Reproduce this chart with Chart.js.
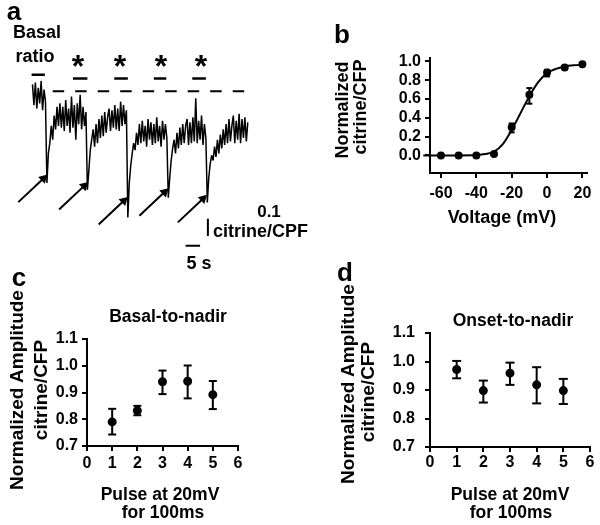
<!DOCTYPE html>
<html lang="en">
<head>
<meta charset="UTF-8">
<title>Citrine/CFP ratio responses</title>
<script src="https://cdn.jsdelivr.net/npm/chart.js"></script>
<style>
  body { margin: 0; background: #fff; }
  #fig { position: relative; width: 600px; height: 525px; overflow: hidden; background: #fff;
         font-family: 'Liberation Sans', Arial, sans-serif; font-weight: bold; color: #000; }
  canvas { position: absolute; }
  .t { position: absolute; white-space: nowrap; line-height: 1; transform: translate(-50%, -50%); }
  .v { transform: translate(-50%, -50%) rotate(-90deg); }
  .l { transform: translate(0, -50%); }
</style>
</head>
<body>
<div id="fig">
  <canvas id="chartA" width="300" height="280" style="left:0;top:0"></canvas>
  <canvas id="chartB" width="300" height="240" style="left:300px;top:0"></canvas>
  <canvas id="chartC" width="300" height="275" style="left:0;top:250px"></canvas>
  <canvas id="chartD" width="300" height="275" style="left:300px;top:250px"></canvas>

  <!-- panel a -->
  <div class="t" style="left:14px;top:11px;font-size:26px">a</div>
  <div class="t" style="left:37px;top:32px;font-size:18px">Basal</div>
  <div class="t" style="left:35px;top:56px;font-size:18px">ratio</div>
  <div class="t" style="left:78px;top:66px;font-size:32px">*</div>
  <div class="t" style="left:120px;top:66px;font-size:32px">*</div>
  <div class="t" style="left:161px;top:66px;font-size:32px">*</div>
  <div class="t" style="left:201px;top:66px;font-size:32px">*</div>
  <div class="t" style="left:269px;top:211px;font-size:17px">0.1</div>
  <div class="t l" style="left:213px;top:231px;font-size:18px">citrine/CPF</div>
  <div class="t" style="left:199px;top:263px;font-size:18px">5 s</div>

  <!-- panel b -->
  <div class="t" style="left:342px;top:34px;font-size:26px">b</div>
  <div class="t v" style="left:342px;top:110px;font-size:18px">Normalized</div>
  <div class="t v" style="left:360px;top:107px;font-size:18px">citrine/CFP</div>
  <div class="t" style="left:502px;top:217px;font-size:18px">Voltage (mV)</div>

  <!-- panel c -->
  <div class="t" style="left:19px;top:277px;font-size:26px">c</div>
  <div class="t v" style="left:16px;top:390px;font-size:19px">Normalized Amplitude</div>
  <div class="t v" style="left:40px;top:390px;font-size:19px">citrine/CFP</div>
  <div class="t" style="left:168px;top:317px;font-size:17.5px">Basal-to-nadir</div>
  <div class="t" style="left:160px;top:495px;font-size:17.5px">Pulse at 20mV</div>
  <div class="t" style="left:163px;top:513px;font-size:17.5px">for 100ms</div>

  <!-- panel d -->
  <div class="t" style="left:345px;top:272px;font-size:26px">d</div>
  <div class="t v" style="left:347px;top:384px;font-size:19px">Normalized Amplitude</div>
  <div class="t v" style="left:367px;top:392px;font-size:19px">citrine/CFP</div>
  <div class="t" style="left:513px;top:321px;font-size:17.5px">Onset-to-nadir</div>
  <div class="t" style="left:510px;top:495px;font-size:17.5px">Pulse at 20mV</div>
  <div class="t" style="left:511px;top:513px;font-size:17.5px">for 100ms</div>
</div>

<script>
// ---- panel a: ratio trace, one sample every 0.5 s ----
const traceDt = 0.5;
const traceRatio = [
  // basal
  1.04, 0.92, 1.05, 0.90, 1.02, 0.93, 1.06, 0.89, 1.01, 0.94,
  // pulse 1 + recovery
  0.47, 0.64, 0.70, 0.80, 0.72, 0.86, 0.78, 0.91, 0.80,
  0.93, 0.79, 0.91, 0.77, 0.95, 0.80, 0.90, 0.76, 0.97, 0.79,
  0.92, 0.72, 0.93, 0.81, 0.98, 0.78, 0.91, 0.80, 0.88,
  // pulse 2
  0.43,
  0.54, 0.66, 0.72, 0.78, 0.68, 0.81, 0.70, 0.84, 0.73, 0.86,
  0.74, 0.88, 0.76, 0.85, 0.90, 0.77, 0.89, 0.79, 0.92, 0.78,
  0.90, 0.77, 0.94, 0.80, 0.92, 0.81, 0.89,
  // pulse 3
  0.27,
  0.47, 0.57, 0.64, 0.70, 0.66, 0.76, 0.69, 0.81, 0.70, 0.83,
  0.71, 0.80, 0.68, 0.84, 0.72, 0.82, 0.69, 0.81, 0.70, 0.85,
  0.71, 0.80, 0.68, 0.83, 0.72, 0.81, 0.73,
  // pulse 4
  0.385,
  0.50, 0.60, 0.67, 0.72, 0.64, 0.76, 0.67, 0.79, 0.69, 0.81,
  0.70, 0.80, 0.84, 0.69, 0.82, 0.70, 0.85, 0.71, 0.96, 0.70,
  0.83, 0.72, 0.86, 0.69, 0.81, 0.73,
  // pulse 5
  0.357,
  0.50, 0.58, 0.63, 0.60, 0.68, 0.62, 0.72, 0.64, 0.75, 0.67,
  0.78, 0.69, 0.81, 0.70, 0.84, 0.71, 0.80, 0.86, 0.70, 0.83,
  0.72, 0.87, 0.70, 0.84, 0.73, 0.85, 0.71, 0.82
];
const basalLevel = 1.0;
const basalLineFrom = 7, basalLineTo = 76.7;
const basalWindow = [-0.3, 4.3];
const basalWindowLevel = 1.096;
const pulseWinStart = [14, 28.3, 42, 55.3];
const pulseWinEnd = [19, 33, 46.3, 60];
const pulseWinLevel = 1.074;
// arrows point at each pulse dip (time s, ratio)
const arrowTipT = [3.8, 17.9, 31.6, 45.7, 59.0];
const arrowTipR = [0.496, 0.453, 0.367, 0.417, 0.379];
const arrowSpanT = 8.7, arrowSpanR = 0.137;
// scale bars: 5 s and 0.1 ratio
const timeBar = { t0: 53, len: 5, r: 0.107 };
const ratioBar = { t: 60.7, r0: 0.163, len: 0.1 };

// ---- panel b: activation curve ----
const bVolt = [-70, -60, -50, -40, -30, -20, -10, 0, 10, 20];
const bRatio = [0, 0, 0, 0, 0.014, 0.30, 0.645, 0.883, 0.936, 0.97];
const bLow = [0, 0, 0, 0, 0.014, 0.245, 0.55, 0.84, 0.915, 0.97];
const bHigh = [0, 0, 0, 0, 0.014, 0.34, 0.716, 0.91, 0.95, 0.97];
const fitVolt = [-70, -60, -50, -40, -35, -30, -25, -20, -15, -10, -5, 0, 5, 10, 15, 20];
const fitRatio = [0, 0, 0, 0.004, 0.014, 0.04, 0.12, 0.27, 0.45, 0.63, 0.78, 0.875, 0.92, 0.945, 0.958, 0.965];
const bVoltTicks = [-60, -40, -20, 0, 20];
const bRatioTicks = [0, 0.2, 0.4, 0.6, 0.8, 1.0];

// ---- panels c, d: amplitude per pulse ----
const pulseNo = [1, 2, 3, 4, 5];
const cMean = [0.79, 0.832, 0.94, 0.942, 0.892];
const cLow = [0.743, 0.815, 0.894, 0.878, 0.838];
const cHigh = [0.839, 0.850, 0.982, 1.001, 0.943];
const dMean = [0.972, 0.898, 0.959, 0.918, 0.898];
const dLow = [0.941, 0.856, 0.918, 0.853, 0.851];
const dHigh = [1.002, 0.933, 0.996, 0.980, 0.939];
const pulseTicks = [0, 1, 2, 3, 4, 5, 6];
const ampTicks = [0.7, 0.8, 0.9, 1.0, 1.1];

Chart.defaults.font.family = "'Liberation Sans', Arial, sans-serif";
Chart.defaults.font.weight = 'bold';
Chart.defaults.font.size = 16;
Chart.defaults.color = '#000';
Chart.defaults.animation = false;
Chart.defaults.events = [];
Chart.defaults.plugins.legend.display = false;
Chart.defaults.plugins.tooltip.enabled = false;

function seg(points, extra) {
  return Object.assign({
    data: points, borderColor: '#000', backgroundColor: '#000',
    borderWidth: 2, pointRadius: 0, tension: 0
  }, extra);
}

function errorBars(xs, lo, hi, cap) {
  return xs.map((x, i) => seg([{ x: x, y: lo[i] }, { x: x, y: hi[i] }], {
    pointStyle: 'line', pointRadius: cap, pointBorderWidth: 2, clip: false
  })).filter((d, i) => hi[i] > lo[i]);
}

function axis(min, max, ticks, fmt, pad, size) {
  return {
    type: 'linear', min: min, max: max,
    grid: { drawOnChartArea: false, tickLength: 5, color: '#000', lineWidth: 2 },
    border: { color: '#000', width: 2 },
    ticks: { padding: pad, callback: fmt },
    afterBuildTicks: s => { s.ticks = ticks.map(v => ({ value: v })); },
    afterFit: s => { if (s.isHorizontal()) s.height = size; else s.width = size; }
  };
}

// panel a
const aSets = [
  seg(traceRatio.map((r, i) => ({ x: i * traceDt, y: r })), { borderWidth: 1.5, borderJoinStyle: 'bevel' }),
  seg([{ x: basalLineFrom, y: basalLevel }, { x: basalLineTo, y: basalLevel }], { borderDash: [11.5, 11] }),
  seg([{ x: basalWindow[0], y: basalWindowLevel }, { x: basalWindow[1], y: basalWindowLevel }], { borderWidth: 2.5 }),
  seg([{ x: timeBar.t0, y: timeBar.r }, { x: timeBar.t0 + timeBar.len, y: timeBar.r }]),
  seg([{ x: ratioBar.t, y: ratioBar.r0 }, { x: ratioBar.t, y: ratioBar.r0 + ratioBar.len }])
];
pulseWinStart.forEach((s, i) => {
  aSets.push(seg([{ x: s, y: pulseWinLevel }, { x: pulseWinEnd[i], y: pulseWinLevel }], { borderWidth: 2.5 }));
});
arrowTipT.forEach((t, i) => {
  aSets.push(seg([{ x: t - arrowSpanT, y: arrowTipR[i] - arrowSpanR }, { x: t, y: arrowTipR[i] }], {
    pointRadius: [0, 5.5], pointStyle: 'triangle', pointRotation: 46,
    pointBorderWidth: 0, pointBackgroundColor: '#000'
  }));
});

new Chart(document.getElementById('chartA'), {
  type: 'line',
  data: { datasets: aSets },
  options: {
    responsive: false,
    layout: { padding: 0 },
    scales: {
      x: { type: 'linear', display: false, min: -9.333, max: 90.667 },
      y: { type: 'linear', display: false, min: -0.0595, max: 1.4961 }
    }
  }
});

// panel b
new Chart(document.getElementById('chartB'), {
  type: 'line',
  data: {
    datasets: [
      seg(fitVolt.map((v, i) => ({ x: v, y: fitRatio[i] })), { cubicInterpolationMode: 'monotone', clip: false }),
      ...errorBars(bVolt, bLow, bHigh, 3),
      seg(bVolt.map((v, i) => ({ x: v, y: bRatio[i] })), { showLine: false, pointRadius: 3, clip: false })
    ]
  },
  options: {
    responsive: false,
    layout: { padding: { left: 80, right: 13, top: 58, bottom: 37 } },
    scales: {
      x: axis(-66.2, 22.6, bVoltTicks, v => String(v), 6, 30),
      y: axis(-0.187, 1.036, bRatioTicks, v => v.toFixed(1), 4, 50)
    }
  }
});

// panels c and d
function amplitudeChart(id, mean, lo, hi, pad, yPad, xPad, cap) {
  new Chart(document.getElementById(id), {
    type: 'line',
    data: {
      datasets: [
        ...errorBars(pulseNo, lo, hi, cap),
        seg(pulseNo.map((p, i) => ({ x: p, y: mean[i] })), { showLine: false, pointRadius: 3.5, clip: false })
      ]
    },
    options: {
      responsive: false,
      layout: { padding: pad },
      scales: {
        x: axis(0, 6, pulseTicks, v => String(v), xPad, 28),
        y: axis(0.7, 1.1, ampTicks, v => v.toFixed(1), yPad, 50)
      }
    }
  });
}
amplitudeChart('chartC', cMean, cLow, cHigh, { left: 37, right: 62, top: 89, bottom: 51 }, 4, 3, 4);
amplitudeChart('chartD', dMean, dLow, dHigh, { left: 80, right: 10, top: 83, bottom: 50 }, 10, 1, 4.5);
</script>
</body>
</html>
